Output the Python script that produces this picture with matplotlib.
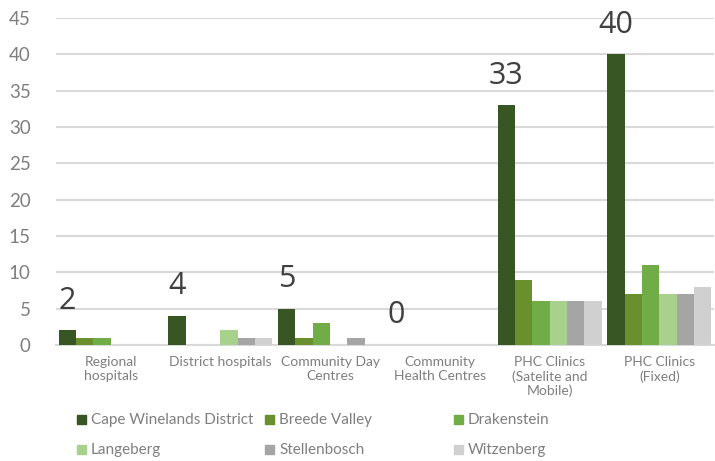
import numpy as np
import matplotlib.pyplot as plt
from matplotlib.patches import Rectangle

categories = [
    "Regional\nhospitals",
    "District hospitals",
    "Community Day\nCentres",
    "Community\nHealth Centres",
    "PHC Clinics\n(Satelite and\nMobile)",
    "PHC Clinics\n(Fixed)",
]
areas = ["Cape Winelands District", "Breede Valley", "Drakenstein",
         "Langeberg", "Stellenbosch", "Witzenberg"]
cape_winelands = [2, 4, 5, 0, 33, 40]
breede_valley = [1, 0, 1, 0, 9, 7]
drakenstein = [1, 0, 3, 0, 6, 11]
langeberg = [0, 2, 0, 0, 6, 7]
stellenbosch = [0, 1, 1, 0, 6, 7]
witzenberg = [0, 1, 0, 0, 6, 8]
series = [cape_winelands, breede_valley, drakenstein, langeberg, stellenbosch, witzenberg]
colors = ["#375623", "#6a8f2d", "#70ad47", "#a9d18e", "#a5a5a5", "#d0d0d0"]

fig = plt.figure(figsize=(7.15, 4.61), dpi=100)
ax = fig.add_axes([0.078, 0.2516, 0.921, 0.7094])

x = np.arange(len(categories))
width = 0.158
for i, (vals, col) in enumerate(zip(series, colors)):
    offs = (i - 2.5) * width
    ax.bar(x + offs, vals, width, color=col, zorder=3)

# value labels on the district totals
for xi, v in zip(x, cape_winelands):
    ax.text(xi - 2.5 * width, v + 2.0, str(v), ha="center", va="bottom",
            fontsize=22, color="#404040", family="Open Sans")

ax.set_xlim(-0.5, len(categories) - 0.5)
ax.set_ylim(0, 45)
ax.set_yticks(range(0, 46, 5))
ax.yaxis.grid(True, color="#d9d9d9", linewidth=1.5, zorder=0)
ax.set_axisbelow(True)
for s in ["top", "right", "left"]:
    ax.spines[s].set_visible(False)
ax.spines["bottom"].set_color("#d9d9d9")
ax.spines["bottom"].set_linewidth(1.5)
ax.tick_params(axis="both", length=0)
ax.tick_params(axis="y", labelsize=13.5, labelcolor="#7f7f7f", pad=18)
ax.tick_params(axis="x", labelsize=10, labelcolor="#7f7f7f", pad=8)
ax.set_xticks(x)
ax.set_xticklabels(categories, linespacing=1.2)
for lbl in ax.get_xticklabels() + ax.get_yticklabels():
    lbl.set_family("Lato")

# legend laid out in equal-width columns
col_x = [81, 269, 458]
row_y = [420, 450]
W, H = 715, 461
for i, (name, col) in enumerate(zip(areas, colors)):
    px = col_x[i % 3]
    py = row_y[i // 3]
    fig.patches.append(Rectangle(((px - 4) / W, 1 - (py + 4) / H), 9 / W, 9 / H,
                                 transform=fig.transFigure, color=col))
    fig.text((px + 10) / W, 1 - py / H, name, ha="left", va="center",
             fontsize=11, color="#7f7f7f", family="Lato")

fig.savefig("out.png", dpi=100)
